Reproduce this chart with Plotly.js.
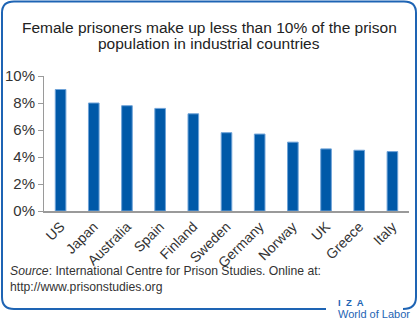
<!DOCTYPE html>
<html>
<head>
<meta charset="utf-8">
<script src="https://cdn.plot.ly/plotly-3.0.1.min.js"></script>
<style>
html,body{margin:0;padding:0;background:#fff;}
#chart{width:418px;height:323px;}
</style>
</head>
<body>
<div id="chart"></div>
<script>
const countries = ["US","Japan","Australia","Spain","Finland","Sweden","Germany","Norway","UK","Greece","Italy"];
const femaleShare = [9.0, 8.0, 7.8, 7.6, 7.2, 5.8, 5.7, 5.1, 4.6, 4.5, 4.4];
const yTickVals = [0, 2, 4, 6, 8, 10];
const yTickText = ["0%","2%","4%","6%","8%","10%"];
const titleLines = ["Female prisoners make up less than 10% of the prison", "population in industrial countries"];

const W = 418, H = 323;
const M = {l: 44, r: 9, t: 76, b: 112};
const PW = W - M.l - M.r, PH = H - M.t - M.b;
const px = x => (x - M.l) / PW;
const py = y => 1 - (y - M.t) / PH;

function pathPx(cmds) {
  return cmds.map(c => c[0] + (c.length > 1 ? ' ' + c.slice(1).map((v, i) => i % 2 === 0 ? px(v).toFixed(5) : py(v).toFixed(5)).join(',') : '')).join(' ');
}

const border = pathPx([
  ['M', 326, 309], ['L', 14, 309], ['Q', 2, 309, 2, 297], ['L', 2, 13], ['Q', 2, 1.5, 14, 1.5],
  ['L', 404, 1.5], ['Q', 416, 1.5, 416, 13], ['L', 416, 297], ['Q', 416, 309, 403, 309]
]);

const trace = {
  type: 'bar',
  x: countries,
  y: femaleShare,
  width: 0.32,
  marker: {color: '#0059a8', line: {color: '#6fa3d8', width: 1}},
  hoverinfo: 'none'
};

const layout = {
  width: W, height: H,
  margin: M,
  paper_bgcolor: '#fff', plot_bgcolor: '#fff',
  showlegend: false,
  font: {family: 'Liberation Sans, Arial, sans-serif', color: '#333'},
  xaxis: {
    type: 'category',
    showline: true, linecolor: '#9a9a9a', linewidth: 2,
    ticks: '', showgrid: false, zeroline: false,
    tickangle: -45, tickfont: {size: 14, color: '#333'},
    fixedrange: true
  },
  yaxis: {
    range: [0, 10],
    tickvals: yTickVals, ticktext: yTickText,
    showline: true, linecolor: '#9a9a9a', linewidth: 1,
    ticks: 'outside', ticklen: 5, tickcolor: '#9a9a9a', tickwidth: 1,
    showgrid: false, zeroline: false,
    tickfont: {size: 15, color: '#333'},
    fixedrange: true
  },
  shapes: [
    {type: 'path', xref: 'paper', yref: 'paper', path: border,
     line: {color: '#1e64b4', width: 2}, fillcolor: 'rgba(0,0,0,0)'}
  ],
  annotations: [
    {xref: 'paper', yref: 'paper', x: px(209), y: py(27.5), xanchor: 'center', yanchor: 'middle',
     text: titleLines[0], showarrow: false, font: {size: 15.5, color: '#222'}},
    {xref: 'paper', yref: 'paper', x: px(209), y: py(43.5), xanchor: 'center', yanchor: 'middle',
     text: titleLines[1], showarrow: false, font: {size: 15.5, color: '#222'}},
    {xref: 'paper', yref: 'paper', x: px(8), y: py(271), xanchor: 'left', yanchor: 'middle',
     text: '<i>Source</i>: International Centre for Prison Studies. Online at:', showarrow: false,
     font: {size: 12.2, color: '#333'}},
    {xref: 'paper', yref: 'paper', x: px(8), y: py(287), xanchor: 'left', yanchor: 'middle',
     text: 'http://www.prisonstudies.org', showarrow: false,
     font: {size: 12.2, color: '#333'}},
    {xref: 'paper', yref: 'paper', x: px(336), y: py(302), xanchor: 'left', yanchor: 'middle',
     text: '<b>I  Z  A</b>', showarrow: false,
     font: {size: 9.5, color: '#1e64b4'}},
    {xref: 'paper', yref: 'paper', x: px(336), y: py(314), xanchor: 'left', yanchor: 'middle',
     text: 'World of Labor', showarrow: false,
     font: {size: 11, color: '#1e64b4'}}
  ]
};

Plotly.newPlot('chart', [trace], layout, {displayModeBar: false, staticPlot: true});
</script>
</body>
</html>
